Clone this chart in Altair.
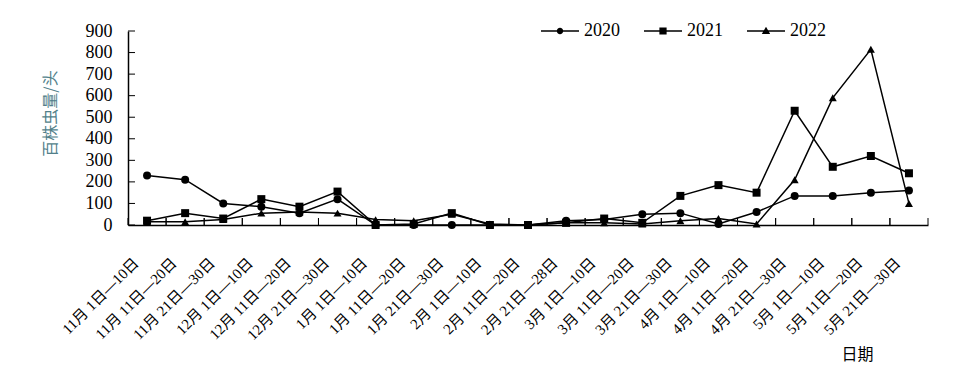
import altair as alt
import pandas as pd

periods = [
    "11月 1日—10日", "11月 11日—20日", "11月 21日—30日",
    "12月 1日—10日", "12月 11日—20日", "12月 21日—30日",
    "1月 1日—10日", "1月 11日—20日", "1月 21日—30日",
    "2月 1日—10日", "2月 11日—20日", "2月 21日—28日",
    "3月 1日—10日", "3月 11日—20日", "3月 21日—30日",
    "4月 1日—10日", "4月 11日—20日", "4月 21日—30日",
    "5月 1日—10日", "5月 11日—20日", "5月 21日—30日",
]
series_names = ["2020", "2021", "2022"]
v2020 = [230, 210, 100, 85, 55, 120, 0, 0, 0, 0, 0, 20, 25, 50, 55, 5, 60, 135, 135, 150, 160]
v2021 = [20, 55, 30, 120, 85, 155, 0, 5, 55, 0, 0, 10, 30, 10, 135, 185, 150, 530, 270, 320, 240]
v2022 = [15, 15, 25, 55, 60, 55, 25, 20, 50, 5, 0, 10, 10, 5, 20, 30, 5, 210, 590, 815, 100]
y_ticks = [0, 100, 200, 300, 400, 500, 600, 700, 800, 900]

rows = []
for name, vals in zip(series_names, [v2020, v2021, v2022]):
    for p, v in zip(periods, vals):
        rows.append({"period": p, "year": name, "value": v})
df = pd.DataFrame(rows)
ytick_df = pd.DataFrame({"value": y_ticks})
xtick_df = pd.DataFrame({"period": periods})

W, H = 800, 194
serif = "Liberation Serif, Noto Sans CJK SC"
cjk = "Noto Sans CJK SC"

xscale = alt.Scale(type="band", domain=periods, paddingInner=0, paddingOuter=0)
yscale = alt.Scale(domain=[0, 900], nice=False)

x_axis = alt.Axis(
    title="日期", labelAngle=-45, labelAlign="right", labelBaseline="middle",
    labelPadding=35, labelOffset=-11, tickSize=0, domainColor="black", domainWidth=1.5,
    labelFont=serif, labelFontSize=15, labelColor="black", labelOverlap=False,
    titleFont=cjk, titleFontSize=16, titleFontWeight="normal", titleColor="black",
    titleX=729, titleY=129, titleAlign="center", titleBaseline="middle",
)
y_axis = alt.Axis(
    title="百株虫量/头", values=y_ticks, tickSize=0, labelPadding=16,
    domainColor="black", domainWidth=1.5,
    labelFont=serif, labelFontSize=18, labelColor="black",
    titleFont=cjk, titleFontSize=16, titleFontWeight="normal", titleColor="#527f8a",
    titleX=-78, titleY=82, titleAlign="center", titleBaseline="middle", titleAngle=-90,
)

x_enc = alt.X("period:N", scale=xscale, sort=periods, axis=x_axis)
y_enc = alt.Y("value:Q", scale=yscale, axis=y_axis)

legend_paths = [
    "M-1,-0.04H1V0.04H-1ZM0.17,0A0.17,0.17,0,1,1,-0.17,0A0.17,0.17,0,1,1,0.17,0Z",
    "M-1,-0.04H1V0.04H-1ZM-0.19,-0.19H0.19V0.19H-0.19Z",
    "M-1,-0.04H1V0.04H-1ZM0,-0.23L0.22,0.16H-0.22Z",
]

base = alt.Chart(df)

legend_layer = base.transform_filter("false").mark_point(
    filled=True, fill="black", opacity=1
).encode(
    x=x_enc, y=y_enc,
    shape=alt.Shape(
        "year:N",
        scale=alt.Scale(domain=series_names, range=legend_paths),
        legend=alt.Legend(
            title=None, orient="none", legendX=413, legendY=-19, direction="horizontal",
            symbolSize=1444, symbolStrokeWidth=0,
            symbolFillColor="black", symbolOpacity=1,
            labelFont=serif, labelFontSize=18,
            labelColor="black", labelOffset=5, columnPadding=24,
        ),
    ),
)

lines = base.mark_line(color="black", strokeWidth=1.5).encode(
    x=x_enc, y=y_enc, detail="year:N",
)

points = base.mark_point(filled=True, color="black", opacity=1, size=64).encode(
    x=x_enc, y=y_enc,
    shape=alt.Shape(
        "year:N",
        scale=alt.Scale(domain=series_names, range=["circle", "square", "triangle-up"]),
        legend=None,
    ),
)

yticks = alt.Chart(ytick_df).mark_rule(color="black", strokeWidth=1).encode(
    y=y_enc, x=alt.value(0), x2=alt.value(7),
)
xticks0 = alt.Chart(xtick_df).mark_rule(color="black", strokeWidth=1).encode(
    x=alt.X("period:N", scale=xscale, sort=periods, bandPosition=0, axis=x_axis),
    y=alt.value(H - 7), y2=alt.value(H),
)
xticks1 = alt.Chart(xtick_df).mark_rule(color="black", strokeWidth=1).encode(
    x=alt.X("period:N", scale=xscale, sort=periods, bandPosition=1, axis=x_axis),
    y=alt.value(H - 7), y2=alt.value(H),
)

chart = (
    alt.layer(legend_layer, lines, points, yticks, xticks0, xticks1)
    .resolve_scale(shape="independent")
    .properties(
        width=W, height=H,
        autosize=alt.AutoSizeParams(type="none"),
        padding={"left": 120, "top": 23, "right": 28, "bottom": 142},
        background="white",
    )
    .configure_view(stroke=None)
    .configure_axis(grid=False)
)

chart.save("out.html", embed_options={"renderer": "svg", "actions": False})
